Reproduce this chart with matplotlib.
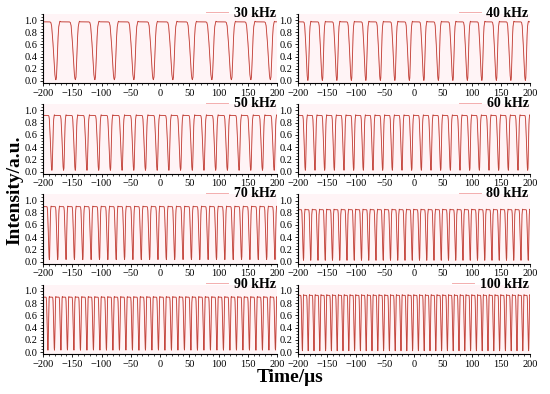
import matplotlib.pyplot as plt
import numpy as np

# 数据
freqs = [30, 40, 50, 60, 70, 80, 90, 100]          # kHz
labels = ['30 kHz', '40 kHz', '50 kHz', '60 kHz', '70 kHz', '80 kHz', '90 kHz', '100 kHz']
high = [0.97, 0.97, 0.92, 0.92, 0.90, 0.85, 0.90, 0.93]
low = [0.02, 0.01, 0.02, 0.02, 0.03, 0.02, 0.03, 0.02]
phase = [0.10, 0.08, 0.0, 0.0, 0.0, 0.0, 0.0, 0.0]  # 周期分数

# 单个周期的波形（读图，归一化）
tpl_phase = [0.00, 0.45, 0.50, 0.54, 0.60, 0.66, 0.70, 0.73, 0.76, 0.79, 0.82, 0.86, 0.90, 0.94, 0.97, 1.00]
tpl_level = [1.00, 1.00, 0.99, 0.94, 0.70, 0.35, 0.12, 0.03, 0.00, 0.04, 0.25, 0.65, 0.90, 0.98, 1.01, 1.00]
xticks = [-200, -150, -100, -50, 0, 50, 100, 150, 200]
yticks = [0.0, 0.2, 0.4, 0.6, 0.8, 1.0]

plt.rcParams['font.family'] = ['Liberation Serif', 'DejaVu Serif']
fig = plt.figure(figsize=(5.5, 3.94), dpi=100)

W, H = 550.0, 394.0
lefts = [43, 298]
widths = [234, 232]
zeros = [81, 171.5, 261.5, 352]   # y像素 of 0.0
ppu = 61.0

t = np.linspace(-200, 200, 8001)
for i, f in enumerate(freqs):
    r, c = divmod(i, 2)
    y0 = zeros[r]
    bottom = 1 - (y0 + 0.04 * ppu) / H
    height = 1.14 * ppu / H
    ax = fig.add_axes([lefts[c] / W, bottom, widths[c] / W, height])
    period = 1000.0 / f
    ph = ((t + 200) / period + phase[i]) % 1.0
    y = low[i] + (high[i] - low[i]) * np.interp(ph, tpl_phase, tpl_level)
    ax.plot(t, y, color='#e4474a', lw=0.65, label=labels[i])
    ax.plot(t, y, color='#5a4a1a', lw=0.4, alpha=0.35)
    ax.set_xlim(-200, 200)
    ax.set_ylim(-0.04, 1.10)
    ax.set_xticks(xticks)
    ax.set_yticks(yticks)
    ax.set_yticklabels(['%.1f' % v for v in yticks])
    ax.minorticks_on()
    ax.tick_params(labelsize=7.5, length=2.5, width=0.6, pad=1.5)
    ax.tick_params(which='minor', length=1.5, width=0.5)
    ax.spines['top'].set_visible(False)
    ax.spines['right'].set_visible(False)
    ax.set_facecolor('#fff4f6')
    leg = ax.legend(loc='upper right', frameon=False, handlelength=1.6,
                    borderaxespad=0.0, borderpad=0.1, handletextpad=0.4,
                    prop={'weight': 'bold', 'size': 10},
                    bbox_to_anchor=(1.0, 1.12))
    leg.get_lines()[0].set_color('#f2a8a8')

fig.text(15 / W, 1 - 190 / H, 'Intensity/a.u.', rotation=90, ha='center', va='center',
         fontsize=14, fontweight='bold')
fig.text(290 / W, 1 - 378 / H, 'Time/μs', ha='center', va='center',
         fontsize=14, fontweight='bold')

fig.savefig('out.png', dpi=100)
